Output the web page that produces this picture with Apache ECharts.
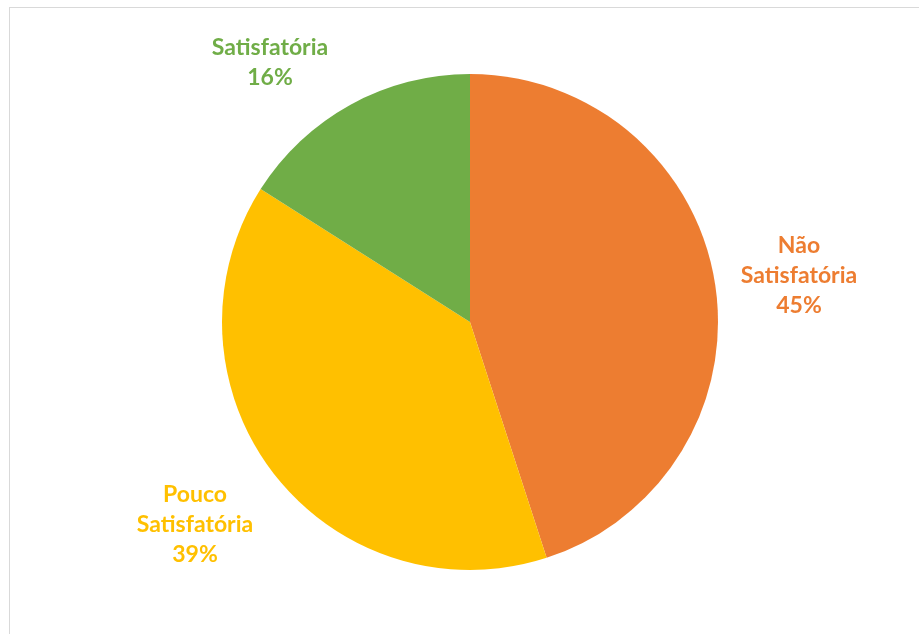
<!DOCTYPE html>
<html>
<head>
<meta charset="utf-8">
<script src="https://cdn.jsdelivr.net/npm/echarts@6/dist/echarts.min.js"></script>
<style>
  html, body { margin: 0; padding: 0; background: #fff; }
  #frame { position: absolute; left: 9px; top: 7px; width: 920px; height: 640px; border: 1px solid #d9d9d9; box-sizing: border-box; }
  #chart { position: absolute; left: 0; top: 0; width: 919px; height: 634px; }
</style>
</head>
<body>
<div id="frame"></div>
<div id="chart"></div>
<script>
const categories = ['Não Satisfatória', 'Pouco Satisfatória', 'Satisfatória']
const labelTexts = ['Não\nSatisfatória', 'Pouco\nSatisfatória', 'Satisfatória']
const percents = [45, 39, 16]
const colors = ['#ED7D31', '#FFC000', '#70AD47']
// where each label sits (label centre)
const labelPos = [[799, 276], [195, 525], [270, 63]]

const chart = echarts.init(document.getElementById('chart'))

chart.setOption({
  animation: false,
  series: [
    {
      type: 'pie',
      center: [470, 322],
      radius: 248,
      startAngle: 90,
      clockwise: true,
      itemStyle: { borderWidth: 0 },
      label: {
        show: true,
        position: 'outside',
        fontFamily: 'Lato',
        fontWeight: 'bold',
        fontSize: 23,
        lineHeight: 30,
        align: 'center',
        formatter: p => labelTexts[p.dataIndex] + '\n' + p.value + '%'
      },
      labelLine: { show: false },
      labelLayout: params => ({
        x: labelPos[params.dataIndex][0],
        y: labelPos[params.dataIndex][1],
        align: 'center',
        verticalAlign: 'middle'
      }),
      emphasis: { disabled: true },
      data: categories.map((name, i) => ({
        name: name,
        value: percents[i],
        itemStyle: { color: colors[i] },
        label: { color: colors[i] }
      }))
    }
  ]
})
</script>
</body>
</html>
